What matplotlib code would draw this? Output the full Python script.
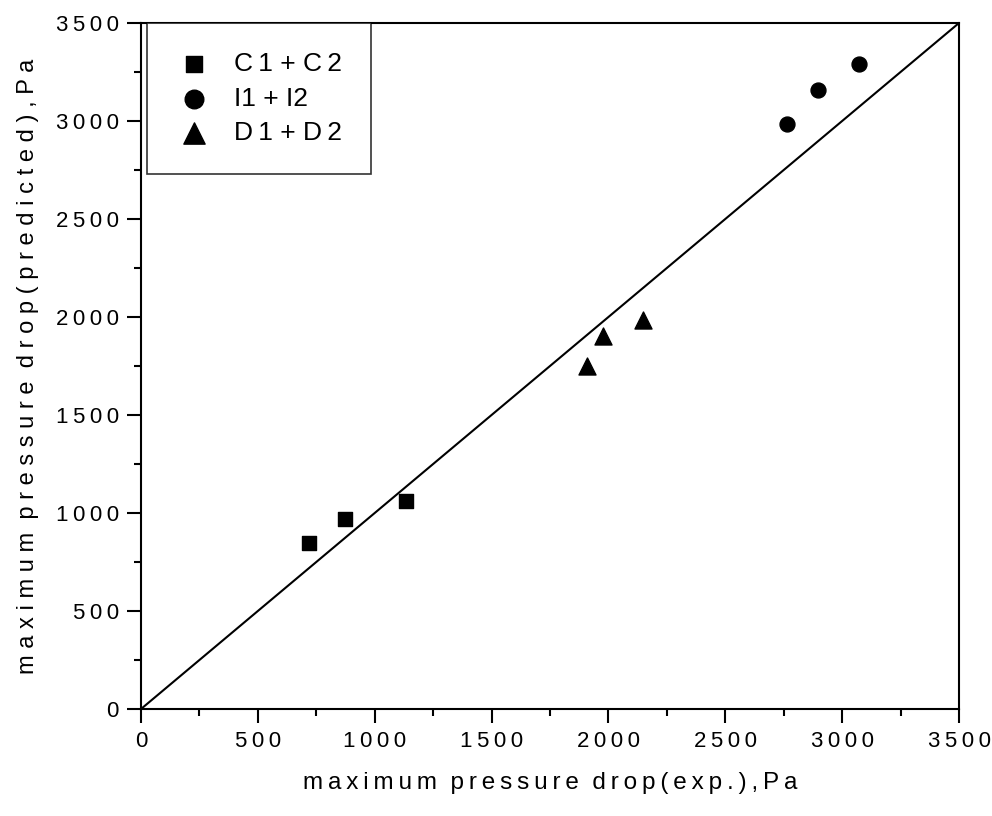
import matplotlib
matplotlib.use("Agg")
import matplotlib.pyplot as plt
from matplotlib.ticker import MultipleLocator, FuncFormatter

plt.rcParams['font.family'] = ['Liberation Sans', 'DejaVu Sans']

# data
c_exp = [718, 874, 1133]
c_pred = [845, 971, 1060]
i_exp = [2765, 2897, 3074]
i_pred = [2986, 3160, 3291]
d_exp = [1908, 1977, 2148]
d_pred = [1750, 1905, 1985]
diag = [0, 3500]

TS = "\u2009"  # thin space


def spaced(s, sep=TS):
    return sep.join(s)


fig = plt.figure(figsize=(9.92, 8.16), dpi=100)
ax = fig.add_axes([141 / 992, (816 - 709) / 816, 818 / 992, 686 / 816])

ax.plot(diag, diag, color='black', lw=1.5)
ax.scatter(c_exp, c_pred, marker='s', s=95, color='black', label=spaced("C1") + " + " + spaced("C2"))
ax.scatter(i_exp, i_pred, marker='o', s=115, color='black', label="I1 + I2")
ax.scatter(d_exp, d_pred, marker='^', s=150, color='black', label=spaced("D1") + " + " + spaced("D2"))

ax.set_xlim(0, 3500)
ax.set_ylim(0, 3500)
ax.xaxis.set_major_locator(MultipleLocator(500))
ax.yaxis.set_major_locator(MultipleLocator(500))
ax.xaxis.set_minor_locator(MultipleLocator(250))
ax.yaxis.set_minor_locator(MultipleLocator(250))
fmt = FuncFormatter(lambda v, p: spaced(str(int(v))))
ax.xaxis.set_major_formatter(fmt)
ax.yaxis.set_major_formatter(fmt)
ax.tick_params(which='major', direction='out', length=10, width=1.5, labelsize=16, pad=6)
ax.tick_params(which='minor', direction='out', length=5, width=1.5)
for sp in ax.spines.values():
    sp.set_linewidth(1.5)

xl = "  ".join(spaced(w) for w in ["maximum", "pressure", "drop(exp.),Pa"])
yl = "  ".join(spaced(w, " ") for w in ["maximum", "pressure", "drop(predicted),Pa"])
ax.set_xlabel(xl, fontsize=17.5, labelpad=14)
ax.set_ylabel(yl, fontsize=17, labelpad=12)

leg = ax.legend(loc='upper left', bbox_to_anchor=(0.007, 1.0), fontsize=19, frameon=True,
                fancybox=False, edgecolor='black', borderpad=1.1, handletextpad=0.8,
                labelspacing=0.4, borderaxespad=0, handlelength=1.4, markerscale=1.25)
leg.get_frame().set_linewidth(1.2)

fig.savefig("out.png", dpi=100)
